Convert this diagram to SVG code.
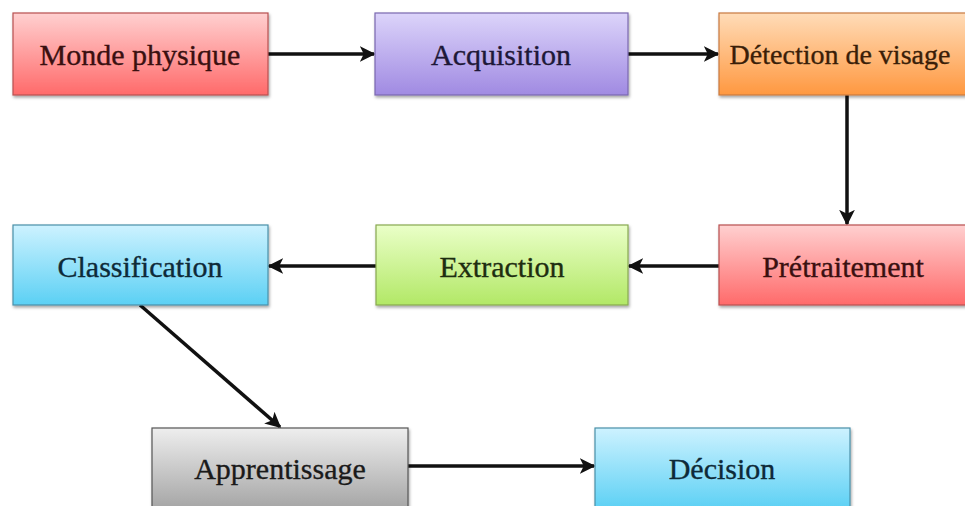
<svg xmlns="http://www.w3.org/2000/svg" width="965" height="506" viewBox="0 0 965 506">
<defs>
<linearGradient id="gRed" x1="0" y1="0" x2="0" y2="1"><stop offset="0" stop-color="#ffd0d0"/><stop offset="1" stop-color="#ff6a6a"/></linearGradient>
<linearGradient id="gPurple" x1="0" y1="0" x2="0" y2="1"><stop offset="0" stop-color="#dcd4fa"/><stop offset="1" stop-color="#a08ae2"/></linearGradient>
<linearGradient id="gOrange" x1="0" y1="0" x2="0" y2="1"><stop offset="0" stop-color="#ffdcb8"/><stop offset="1" stop-color="#ff9840"/></linearGradient>
<linearGradient id="gBlue" x1="0" y1="0" x2="0" y2="1"><stop offset="0" stop-color="#cdf2ff"/><stop offset="1" stop-color="#5bd0f4"/></linearGradient>
<linearGradient id="gGreen" x1="0" y1="0" x2="0" y2="1"><stop offset="0" stop-color="#eaffc8"/><stop offset="1" stop-color="#b2e866"/></linearGradient>
<linearGradient id="gGray" x1="0" y1="0" x2="0" y2="1"><stop offset="0" stop-color="#eeeeee"/><stop offset="1" stop-color="#a4a4a4"/></linearGradient>
<filter id="sh" x="-5%" y="-5%" width="115%" height="125%"><feDropShadow dx="1" dy="2" stdDeviation="1.5" flood-color="#000" flood-opacity="0.35"/></filter>
<marker id="arr" viewBox="0 0 10 10" refX="9" refY="5" markerWidth="4.5" markerHeight="4.5" orient="auto" markerUnits="strokeWidth"><path d="M0,0 L10,5 L0,10 L2.5,5 Z" fill="#111"/></marker>
</defs>
<style>
.box{stroke-width:1.2;filter:url(#sh)}
.lbl{font-family:"Liberation Serif","Times New Roman",serif;font-size:30px;text-anchor:middle;dominant-baseline:central;stroke-width:0.35}
.conn{stroke:#111;stroke-width:3.5;fill:none;marker-end:url(#arr)}
</style>
<rect width="965" height="506" fill="#ffffff"/>
<g id="connectors">
<line class="conn" x1="268" y1="54" x2="374" y2="54"/>
<line class="conn" x1="628" y1="54" x2="718" y2="54"/>
<line class="conn" x1="847" y1="95" x2="847" y2="224"/>
<line class="conn" x1="719" y1="266" x2="629" y2="266"/>
<line class="conn" x1="376" y1="266" x2="269" y2="266"/>
<line class="conn" x1="140" y1="305" x2="280" y2="427"/>
<line class="conn" x1="408" y1="466" x2="594" y2="466"/>
</g>
<g id="monde">
<rect class="box" x="13" y="13" width="255" height="82" fill="url(#gRed)" stroke="#b85050"/>
<text class="lbl" x="140" y="54" fill="#3a1010" stroke="#3a1010">Monde physique</text>
</g>
<g id="acquisition">
<rect class="box" x="375" y="13" width="253" height="82" fill="url(#gPurple)" stroke="#7a68b0"/>
<text class="lbl" x="501" y="54" fill="#1e1838" stroke="#1e1838">Acquisition</text>
</g>
<g id="detection">
<rect class="box" x="719" y="13" width="252" height="82" fill="url(#gOrange)" stroke="#c87a40"/>
<text class="lbl" x="840" y="54" fill="#3a1e08" stroke="#3a1e08" style="font-size:28px">Détection de visage</text>
</g>
<g id="pretraitement">
<rect class="box" x="719" y="225" width="252" height="80" fill="url(#gRed)" stroke="#b85050"/>
<text class="lbl" x="843" y="266" fill="#3a1010" stroke="#3a1010">Prétraitement</text>
</g>
<g id="extraction">
<rect class="box" x="376" y="225" width="252" height="80" fill="url(#gGreen)" stroke="#88a850"/>
<text class="lbl" x="502" y="266" fill="#1e2e10" stroke="#1e2e10">Extraction</text>
</g>
<g id="classification">
<rect class="box" x="13" y="225" width="255" height="80" fill="url(#gBlue)" stroke="#4a90a8"/>
<text class="lbl" x="140" y="266" fill="#0e2a38" stroke="#0e2a38">Classification</text>
</g>
<g id="apprentissage">
<rect class="box" x="152" y="428" width="256" height="82" fill="url(#gGray)" stroke="#555555"/>
<text class="lbl" x="280" y="468" fill="#1a1a1a" stroke="#1a1a1a">Apprentissage</text>
</g>
<g id="decision">
<rect class="box" x="595" y="428" width="255" height="82" fill="url(#gBlue)" stroke="#4a90a8"/>
<text class="lbl" x="722" y="468" fill="#0e2a38" stroke="#0e2a38">Décision</text>
</g>
</svg>
